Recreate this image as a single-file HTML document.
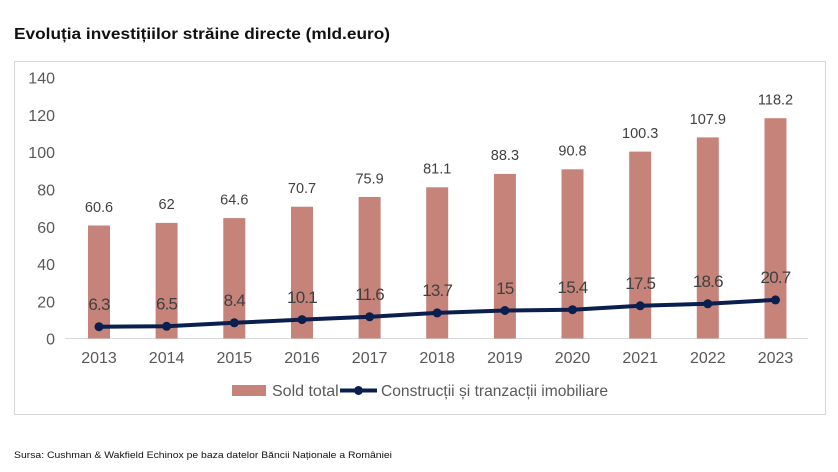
<!DOCTYPE html>
<html><head><meta charset="utf-8"><style>
html,body{margin:0;padding:0;background:#fff;width:838px;height:472px;overflow:hidden}
svg{display:block}
text{font-family:"Liberation Sans",Arial,sans-serif}
</style></head><body>
<svg width="838" height="472" viewBox="0 0 838 472" xmlns="http://www.w3.org/2000/svg">
<text x="14" y="39" font-size="16" font-weight="bold" fill="#111" textLength="376" lengthAdjust="spacingAndGlyphs">Evoluția investițiilor străine directe (mld.euro)</text>
<rect x="14.5" y="61.5" width="811" height="353" fill="#fff" stroke="#d9d9d9" stroke-width="1"/>
<g font-size="16" fill="#595959" text-anchor="end">
<text x="55" y="83.5">140</text>
<text x="55" y="121">120</text>
<text x="55" y="158">100</text>
<text x="55" y="195.5">80</text>
<text x="55" y="233">60</text>
<text x="55" y="270">40</text>
<text x="55" y="307.5">20</text>
<text x="55" y="344.5">0</text>
</g>
<line x1="65" y1="338.5" x2="808" y2="338.5" stroke="#d9d9d9" stroke-width="1"/>
<g fill="#c5837a">
<rect x="88" y="225.5" width="22" height="113"/>
<rect x="155.6" y="222.9" width="22" height="115.6"/>
<rect x="223.3" y="218.1" width="22" height="120.4"/>
<rect x="291" y="206.7" width="22" height="131.8"/>
<rect x="358.6" y="197" width="22" height="141.5"/>
<rect x="426.2" y="187.3" width="22" height="151.2"/>
<rect x="493.9" y="173.9" width="22" height="164.6"/>
<rect x="561.5" y="169.3" width="22" height="169.2"/>
<rect x="629.2" y="151.6" width="22" height="186.9"/>
<rect x="696.8" y="137.4" width="22" height="201.1"/>
<rect x="764.5" y="118.2" width="22" height="220.3"/>
</g>
<g font-size="14.5" fill="#404040" text-anchor="middle">
<text x="99" y="212">60.6</text>
<text x="166.6" y="209">62</text>
<text x="234.3" y="204.5">64.6</text>
<text x="302" y="193">70.7</text>
<text x="369.6" y="183.5">75.9</text>
<text x="437.2" y="173.5">81.1</text>
<text x="504.9" y="160">88.3</text>
<text x="572.5" y="155.5">90.8</text>
<text x="640.2" y="138">100.3</text>
<text x="707.8" y="124">107.9</text>
<text x="775.5" y="104.5">118.2</text>
</g>
<polyline fill="none" stroke="#0b1f4f" stroke-width="4" stroke-linejoin="round" points="99,326.7 166.6,326.3 234.3,322.8 302,319.6 369.6,316.8 437.2,312.9 504.9,310.5 572.5,309.7 640.2,305.8 707.8,303.8 775.5,299.9"/>
<g fill="#0b1f4f">
<circle cx="99" cy="326.7" r="4.5"/>
<circle cx="166.6" cy="326.3" r="4.5"/>
<circle cx="234.3" cy="322.8" r="4.5"/>
<circle cx="302" cy="319.6" r="4.5"/>
<circle cx="369.6" cy="316.8" r="4.5"/>
<circle cx="437.2" cy="312.9" r="4.5"/>
<circle cx="504.9" cy="310.5" r="4.5"/>
<circle cx="572.5" cy="309.7" r="4.5"/>
<circle cx="640.2" cy="305.8" r="4.5"/>
<circle cx="707.8" cy="303.8" r="4.5"/>
<circle cx="775.5" cy="299.9" r="4.5"/>
</g>
<g font-size="17" fill="#404040" text-anchor="middle" letter-spacing="-0.8">
<text x="99" y="310">6.3</text>
<text x="166.6" y="309.5">6.5</text>
<text x="234.3" y="306">8.4</text>
<text x="302" y="303">10.1</text>
<text x="369.6" y="300">11.6</text>
<text x="437.2" y="296">13.7</text>
<text x="504.9" y="294">15</text>
<text x="572.5" y="293">15.4</text>
<text x="640.2" y="289">17.5</text>
<text x="707.8" y="287">18.6</text>
<text x="775.5" y="283">20.7</text>
</g>
<g font-size="16" fill="#595959" text-anchor="middle">
<text x="99" y="363">2013</text>
<text x="166.6" y="363">2014</text>
<text x="234.3" y="363">2015</text>
<text x="302" y="363">2016</text>
<text x="369.6" y="363">2017</text>
<text x="437.2" y="363">2018</text>
<text x="504.9" y="363">2019</text>
<text x="572.5" y="363">2020</text>
<text x="640.2" y="363">2021</text>
<text x="707.8" y="363">2022</text>
<text x="775.5" y="363">2023</text>
</g>
<rect x="232" y="385" width="34" height="11" fill="#c5837a"/>
<text x="272" y="396" font-size="16" fill="#595959">Sold total</text>
<line x1="340" y1="390.5" x2="377" y2="390.5" stroke="#0b1f4f" stroke-width="4"/>
<circle cx="358.5" cy="390.5" r="4.5" fill="#0b1f4f"/>
<text x="381" y="396" font-size="16" fill="#595959" textLength="227" lengthAdjust="spacingAndGlyphs">Construcții și tranzacții imobiliare</text>
<text x="14" y="458" font-size="9.5" fill="#111" textLength="378" lengthAdjust="spacingAndGlyphs">Sursa: Cushman &amp; Wakfield Echinox pe baza datelor Băncii Naționale a României</text>
</svg>
</body></html>
